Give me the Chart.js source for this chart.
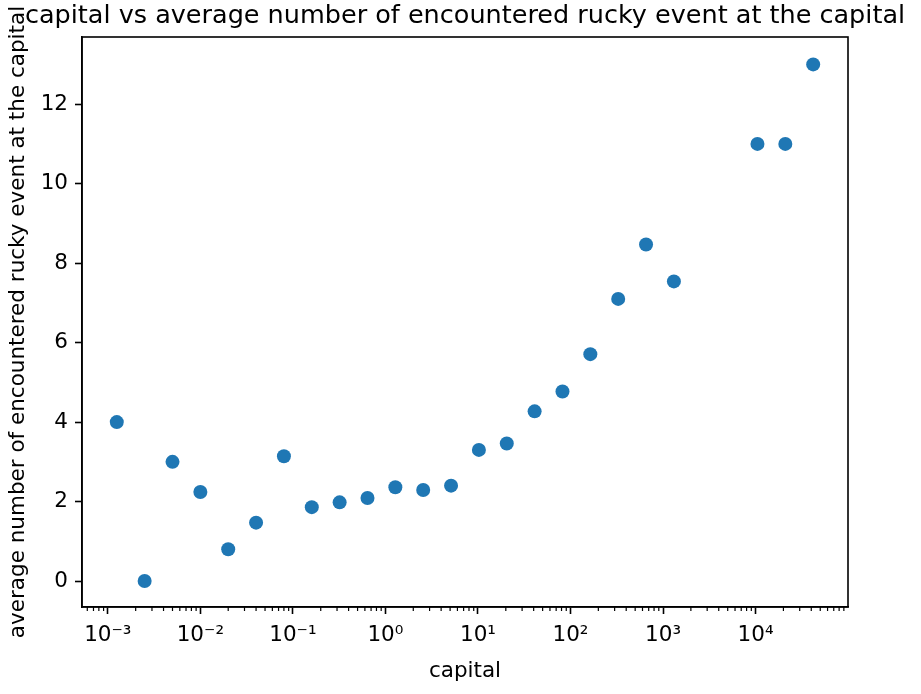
<!DOCTYPE html>
<html>
<head>
<meta charset="utf-8">
<script src="https://cdn.jsdelivr.net/npm/chart.js@4.4.0/dist/chart.umd.min.js"></script>
<style>
  html, body { margin: 0; padding: 0; background: #fff; }
</style>
</head>
<body>
<canvas id="ruckyChart" width="921" height="694"></canvas>
<script>
// data
const capital = [0.00125, 0.0025, 0.005, 0.01, 0.02, 0.04, 0.08, 0.16, 0.32, 0.64,
                 1.28, 2.56, 5.12, 10.24, 20.48, 40.96, 81.92, 163.84, 327.68, 655.36,
                 1310.72, 10485.76, 20971.52, 41943.04];
const ruckyEvents = [4.0, 0.0, 3.0, 2.24, 0.8, 1.47, 3.14, 1.86, 1.98, 2.09,
                     2.36, 2.29, 2.4, 3.3, 3.46, 4.27, 4.77, 5.71, 7.1, 8.47,
                     7.54, 11.0, 11.0, 13.0];

const xMajorTicks = [1e-3, 1e-2, 1e-1, 1, 10, 100, 1000, 10000];
const xTickLabels = ['10⁻³', '10⁻²', '10⁻¹', '10⁰', '10¹', '10²', '10³', '10⁴'];
const yTicks = [0, 2, 4, 6, 8, 10, 12];

const xMin = 0.000526, xMax = 99770;
const yMin = -0.653, yMax = 13.69;

const titleText = 'capital vs average number of encountered rucky event at the capital';
const font = { family: 'DejaVu Sans', size: 21.5 };

// minor ticks 2..9 x 10^n inside the axis range
const xMinorTicks = [];
for (let k = -4; k <= 4; k++) {
  for (let m = 2; m <= 9; m++) {
    const v = m * Math.pow(10, k);
    if (v >= xMin && v <= xMax) xMinorTicks.push(v);
  }
}

const boxAndTitle = {
  id: 'boxAndTitle',
  afterDraw(chart) {
    const { ctx, chartArea: a } = chart;
    const xs = chart.scales.x;
    ctx.save();
    // minor ticks
    ctx.strokeStyle = '#000';
    ctx.lineWidth = 1.2;
    xs.ticks.forEach(t => {
      if (t.major) return;
      const px = xs.getPixelForValue(t.value);
      ctx.beginPath();
      ctx.moveTo(px, a.bottom);
      ctx.lineTo(px, a.bottom + 4);
      ctx.stroke();
    });
    // axes frame
    ctx.lineWidth = 1.6;
    ctx.strokeRect(a.left, a.top, a.right - a.left, a.bottom - a.top);
    // title centred on the axes
    ctx.fillStyle = '#000';
    ctx.font = '25.5px "DejaVu Sans"';
    ctx.textAlign = 'center';
    ctx.textBaseline = 'alphabetic';
    ctx.fillText(titleText, (a.left + a.right) / 2, 23);
    ctx.restore();
  }
};

const ctx = document.getElementById('ruckyChart').getContext('2d');
const ruckyChart = new Chart(ctx, {
  type: 'scatter',
  data: {
    datasets: [{
      data: capital.map((c, i) => ({ x: c, y: ruckyEvents[i] })),
      backgroundColor: '#1f77b4',
      borderWidth: 0,
      pointRadius: 7,
      pointHoverRadius: 7
    }]
  },
  options: {
    responsive: false,
    animation: false,
    devicePixelRatio: 1,
    layout: { padding: { top: 37, left: 0, right: 73, bottom: 0 } },
    plugins: {
      legend: { display: false },
      tooltip: { enabled: false },
      title: { display: false }
    },
    scales: {
      x: {
        type: 'logarithmic',
        min: xMin,
        max: xMax,
        afterBuildTicks: (scale) => {
          scale.ticks = xMajorTicks.map(v => ({ value: v, major: true }))
            .concat(xMinorTicks.map(v => ({ value: v, major: false })))
            .sort((p, q) => p.value - q.value);
        },
        afterFit: (scale) => { scale.height = 87; },
        ticks: {
          autoSkip: false,
          maxRotation: 0,
          padding: 9,
          color: '#000',
          font: font,
          callback: (v) => {
            const i = xMajorTicks.indexOf(v);
            return i >= 0 ? xTickLabels[i] : '';
          }
        },
        grid: {
          drawOnChartArea: false,
          tickLength: 7,
          tickWidth: 1.6,
          tickColor: (c) => (c.tick && c.tick.major) ? '#000' : 'rgba(0,0,0,0)'
        },
        border: { color: '#000', width: 1.6 },
        title: {
          display: true,
          text: 'capital',
          color: '#000',
          font: font,
          padding: { top: 0, bottom: 10 }
        }
      },
      y: {
        min: yMin,
        max: yMax,
        afterBuildTicks: (scale) => {
          scale.ticks = yTicks.map(v => ({ value: v }));
        },
        afterFit: (scale) => { scale.width = 82; },
        ticks: {
          padding: 7,
          color: '#000',
          font: font
        },
        grid: {
          drawOnChartArea: false,
          tickLength: 7,
          tickWidth: 1.6,
          tickColor: '#000'
        },
        border: { color: '#000', width: 1.6 },
        title: {
          display: true,
          text: 'average number of encountered rucky event at the capital',
          color: '#000',
          font: font,
          padding: { top: 6, bottom: 0 }
        }
      }
    }
  },
  plugins: [boxAndTitle]
});
</script>
</body>
</html>
